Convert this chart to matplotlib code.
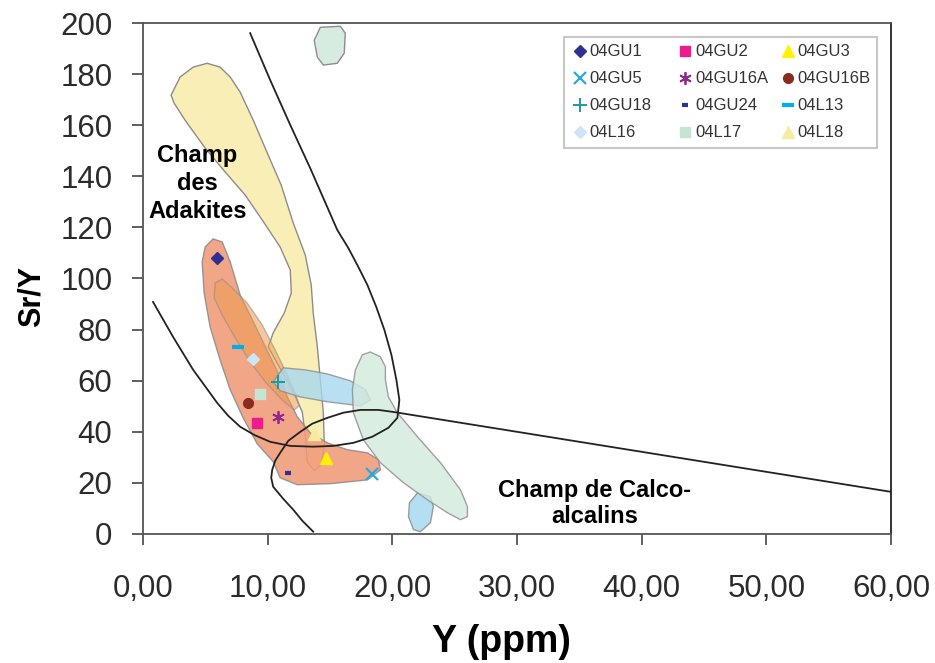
import numpy as np
import matplotlib.pyplot as plt
from matplotlib.patches import Polygon, Rectangle
from matplotlib.ticker import FuncFormatter

plt.rcParams['font.family'] = ['Liberation Sans', 'DejaVu Sans']

# samples (Y ppm, Sr/Y)
samples = ['04GU1', '04GU2', '04GU3', '04GU5', '04GU16A', '04GU16B',
           '04GU18', '04GU24', '04L13', '04L16', '04L17', '04L18']
sample_y = [5.9, 9.1, 14.7, 18.4, 10.8, 8.4, 10.8, 11.6, 7.6, 8.8, 9.4, 13.7]
sample_sry = [108, 43.4, 29.7, 23.5, 45.8, 51.3, 59.5, 23.9, 73.0, 68.5, 54.8, 39.0]

# field outlines (Y, Sr/Y)
yellow_x = [2.25, 2.97, 4.02, 5.14, 6.18, 6.99, 7.79, 8.84, 10.04, 11.08, 12.05, 13.01, 13.49,
            13.65, 13.98, 14.22, 14.46, 14.54, 14.30, 13.73, 13.17, 13.01, 12.77, 11.97, 10.84,
            10.04, 10.44, 11.33, 11.89, 11.81, 11.00, 9.56, 8.19, 6.59, 4.98, 3.37, 2.49]
yellow_y = [171.8, 178.9, 182.8, 184.3, 182.8, 178.9, 173.0, 162.0, 148.3, 136.6, 121.7, 109.2, 97.5,
            86.5, 73.2, 60.3, 47.4, 34.8, 27.0, 24.7, 28.2, 38.7, 47.7, 56.4, 66.1,
            73.2, 78.7, 86.5, 94.3, 103.3, 112.3, 122.9, 132.7, 141.7, 151.1, 162.0, 168.7]

orange_x = [5.62, 6.35, 6.99, 7.79, 9.16, 10.20, 11.00, 11.57, 12.37, 13.41, 14.78, 16.39, 17.99, 18.88,
            19.04, 17.99, 15.02, 12.37, 11.00, 10.44, 9.16, 8.03, 6.99, 6.18, 5.38, 4.90, 4.74, 4.98]
orange_y = [115.5, 114.3, 106.5, 93.5, 79.8, 69.3, 61.4, 53.6, 45.8, 39.5, 35.6, 32.9, 31.7, 29.0,
            25.0, 21.1, 19.6, 19.2, 21.9, 28.2, 35.2, 45.4, 56.4, 68.1, 81.0, 94.3, 106.5, 112.3]

inner_x = [5.78, 6.35, 7.15, 8.35, 9.56, 10.60, 11.57, 12.21, 12.53, 12.13, 11.16, 9.80, 8.59, 7.39, 6.35, 5.70]
inner_y = [98.2, 99.8, 96.3, 90.4, 81.8, 72.0, 62.2, 55.2, 50.1, 48.5, 52.4, 59.5, 67.3, 76.7, 85.7, 92.4]

blue_x = [10.44, 11.24, 13.01, 14.78, 16.63, 17.83, 18.23, 17.43, 14.78, 12.61, 11.00]
blue_y = [59.5, 65.0, 64.2, 62.6, 59.9, 56.4, 52.4, 50.1, 51.7, 53.6, 56.0]

blue2_x = [22.01, 23.05, 23.29, 23.05, 22.25, 21.69, 21.29, 21.37]
blue2_y = [16.0, 14.5, 10.6, 4.3, 0.8, 1.6, 6.7, 12.1]

green_x = [17.59, 18.23, 19.04, 19.44, 19.44, 19.68, 20.40, 22.01, 23.86, 25.46, 26.02, 26.02, 25.46,
           24.42, 22.81, 20.88, 19.04, 17.67, 16.87, 16.79, 17.03]
green_y = [70.1, 71.2, 69.3, 65.4, 60.3, 53.6, 47.4, 38.0, 27.8, 17.2, 10.6, 6.7, 5.5,
           8.2, 13.3, 20.0, 27.8, 36.8, 47.4, 56.4, 64.2]

green2_x = [13.73, 14.22, 15.82, 16.22, 16.14, 15.58, 14.46, 13.98]
green2_y = [193.3, 198.4, 198.8, 196.1, 188.3, 184.3, 183.6, 186.7]

# boundary curves
adakite_x = [0.80, 2.41, 4.02, 5.94, 6.83, 7.79, 8.92, 10.20, 11.81, 13.65, 15.26, 16.87, 18.39,
             19.68, 20.40, 20.56, 20.32, 19.92, 19.36, 18.71, 17.99, 17.27, 16.47, 15.58,
             13.41, 11.81, 10.20, 8.59]
adakite_y = [90.8, 77.1, 64.2, 51.3, 46.2, 41.9, 38.7, 36.0, 34.4, 34.1, 34.4, 35.6, 38.0,
             41.5, 45.4, 52.4, 60.3, 70.1, 79.8, 88.8, 97.5, 104.5, 111.9, 119.0,
             143.2, 160.1, 177.7, 196.1]

calco_x = [13.65, 12.77, 12.05, 11.24, 10.44, 10.28, 10.36, 10.60, 11.00, 11.65, 12.61, 13.57,
           14.78, 16.06, 17.43, 18.88, 20.08, 60.0]
calco_y = [0.8, 5.1, 9.4, 13.7, 18.4, 21.9, 25.0, 28.6, 31.7, 36.4, 39.9, 43.1,
           45.4, 47.4, 48.5, 48.5, 47.7, 16.4]

styles = {
    '04GU1':   dict(marker='D', color='#2e3192', ms=6.5),
    '04GU2':   dict(marker='s', color='#ec1c8c', ms=6.5),
    '04GU3':   dict(marker='^', color='#fff200', ms=8),
    '04GU5':   dict(marker='x', color='#27aae1', ms=8, mew=1.6),
    '04GU16A': dict(marker=(6, 2, 0), color='#92278f', ms=9, mew=1.3),
    '04GU16B': dict(marker='o', color='#8b2a1f', ms=7),
    '04GU18':  dict(marker='+', color='#1a9c9c', ms=10, mew=1.4),
    '04GU24':  dict(marker='_', color='#2e3192', ms=5, mew=3),
    '04L13':   dict(marker='_', color='#00aeef', ms=9, mew=3),
    '04L16':   dict(marker='D', color='#cde6f5', ms=6.5),
    '04L17':   dict(marker='s', color='#c5e5d2', ms=6.5),
    '04L18':   dict(marker='^', color='#f5eca0', ms=8),
}

fig, ax = plt.subplots(figsize=(9.35, 6.63), dpi=100)
fig.subplots_adjust(left=0.153, right=0.953, top=0.965, bottom=0.195)

edge = '#8c8c8c'
ax.add_patch(Polygon(np.column_stack([yellow_x, yellow_y]), closed=True, fc='#f9efb6', ec=edge, lw=1, zorder=1))
ax.add_patch(Polygon(np.column_stack([orange_x, orange_y]), closed=True, fc='#f19a78', ec=edge, lw=1, alpha=0.88, zorder=2))
ax.add_patch(Polygon(np.column_stack([inner_x, inner_y]), closed=True, fc='#ee9a4e', ec=edge, lw=1, alpha=0.55, zorder=2))
ax.add_patch(Polygon(np.column_stack([blue_x, blue_y]), closed=True, fc='#a7d9ef', ec=edge, lw=1, alpha=0.8, zorder=3))
ax.add_patch(Polygon(np.column_stack([green_x, green_y]), closed=True, fc='#d2eadd', ec=edge, lw=1, alpha=0.8, zorder=3))
ax.add_patch(Polygon(np.column_stack([blue2_x, blue2_y]), closed=True, fc='#a7d9ef', ec=edge, lw=1, alpha=0.85, zorder=2))
ax.add_patch(Polygon(np.column_stack([green2_x, green2_y]), closed=True, fc='#d6ece0', ec=edge, lw=1, zorder=3))

ax.plot(adakite_x, adakite_y, color='#222222', lw=1.3, zorder=4)
ax.plot(calco_x, calco_y, color='#222222', lw=1.3, zorder=4)

for name, x, y in zip(samples, sample_y, sample_sry):
    st = dict(styles[name])
    ax.plot([x], [y], linestyle='none', marker=st.pop('marker'), color=st.pop('color'),
            zorder=5, **st)

# legend drawn by hand: Excel-style equal columns, filled row by row
ax.add_patch(Rectangle((0.563, 0.755), 0.418, 0.218, transform=ax.transAxes,
                       fc='white', ec='#c8c8c8', lw=1.5, zorder=7))
col_x = [0.584, 0.725, 0.862]
row_y = [0.945, 0.892, 0.839, 0.786]
for i, name in enumerate(samples):
    cx, ry = col_x[i % 3], row_y[i // 3]
    st = dict(styles[name])
    ax.plot([cx], [ry], transform=ax.transAxes, linestyle='none', marker=st.pop('marker'),
            color=st.pop('color'), zorder=8, clip_on=False, **st)
    ax.text(cx + 0.013, ry, name, transform=ax.transAxes, ha='left', va='center',
            fontsize=12, color='#333333', zorder=8)

ax.text(4.34, 137.2, 'Champ\ndes\nAdakites', ha='center', va='center', fontsize=17,
        fontweight='bold', linespacing=1.27, zorder=6)
ax.text(36.2, 11.9, 'Champ de Calco-\nalcalins', ha='center', va='center', fontsize=17,
        fontweight='bold', linespacing=1.2, zorder=6)

ax.set_xlim(0, 60)
ax.set_ylim(0, 200)
ax.set_xticks(np.arange(0, 61, 10))
ax.set_yticks(np.arange(0, 201, 20))
ax.xaxis.set_major_formatter(FuncFormatter(lambda v, p: f'{v:.2f}'.replace('.', ',')))
ax.tick_params(axis='x', direction='out', length=8, width=1.2, pad=21, labelsize=22.5,
               labelcolor='#2b2b2b', color='#444444')
ax.tick_params(axis='y', direction='out', length=8, width=1.2, pad=14, labelsize=22.5,
               labelcolor='#2b2b2b', color='#444444')

for side in ['left', 'bottom', 'top']:
    ax.spines[side].set_color('#555555')
    ax.spines[side].set_linewidth(1.3)
ax.spines['right'].set_color('#222222')
ax.spines['right'].set_linewidth(1.3)

ax.set_ylabel('Sr/Y', fontsize=22, fontweight='bold')
ax.yaxis.set_label_coords(-0.129, 0.464)
ax.set_xlabel('Y (ppm)', fontsize=27, fontweight='bold')
ax.xaxis.set_label_coords(0.479, -0.177)

fig.savefig('out.png', dpi=100)
